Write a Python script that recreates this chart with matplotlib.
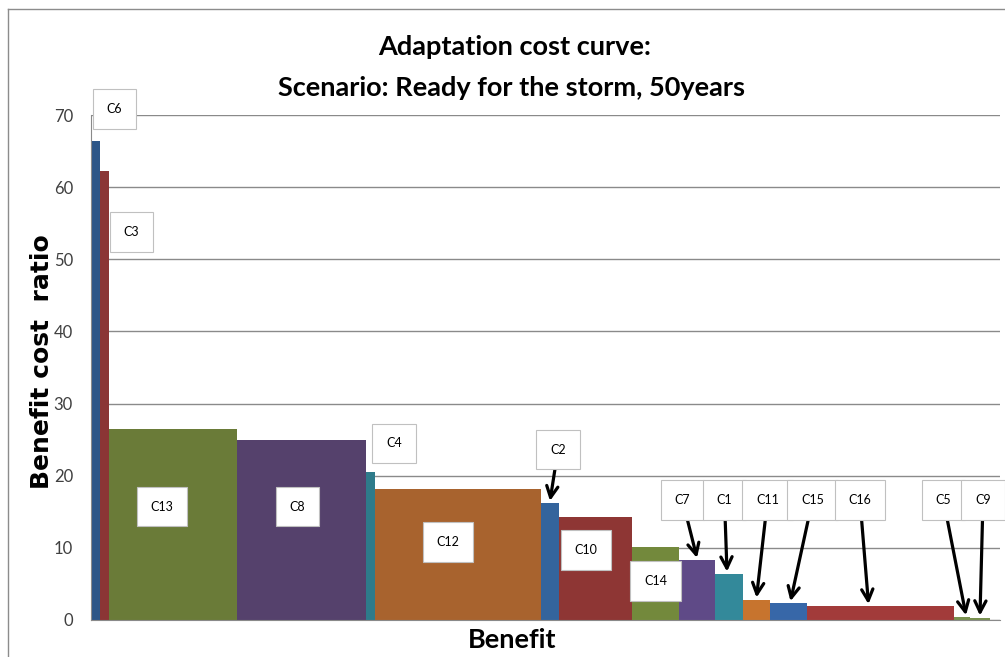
import numpy as np
import matplotlib
matplotlib.use("Agg")
import matplotlib.pyplot as plt
from matplotlib.lines import Line2D

# adaptation options, ordered by benefit cost ratio
names = ["C6", "C3", "C13", "C8", "C4", "C12", "C2", "C10", "C14",
         "C7", "C1", "C11", "C15", "C16", "C5", "C9"]
benefit = [9, 9, 128, 129, 9, 166, 18, 73, 47, 36, 28, 27, 37, 147, 16, 20]
bc_ratio = [66.4, 62.3, 26.5, 25.0, 20.5, 18.2, 16.2, 14.3, 10.1,
            8.3, 6.4, 2.8, 2.3, 1.9, 0.35, 0.3]
colors = ["#2D5687", "#8B3535", "#6A7B38", "#55416C", "#2E7B8A", "#A8632E",
          "#34649C", "#8E3634", "#73893C", "#5F4A87", "#33899A", "#C7742E",
          "#3767A8", "#A23B3A", "#7A9250", "#7A9250"]

# label box centres (benefit, ratio) and which ones get an arrow
label_pos = {
    "C6": (23.5, 70.8), "C3": (40.5, 53.8), "C13": (71, 15.7),
    "C8": (206.5, 15.7), "C4": (303, 24.5), "C12": (357, 10.8),
    "C2": (467, 23.6), "C10": (495, 9.7), "C14": (564.5, 5.4),
    "C7": (591.5, 16.6), "C1": (633.5, 16.6), "C11": (676.5, 16.6),
    "C15": (721.5, 16.6), "C16": (769, 16.6), "C5": (852.5, 16.6),
    "C9": (892, 16.6),
}
arrowed = ["C2", "C7", "C1", "C11", "C15", "C16", "C5", "C9"]
arrow_dx = {"C16": -12, "C5": 4, "C1": -2, "C15": 2}

W, H = 1005, 657
fig = plt.figure(figsize=(W / 100, H / 100), dpi=100)
ax = fig.add_axes([91 / W, (H - 620) / H, (1000 - 91) / W, (620 - 115) / H])

lefts = np.concatenate([[0], np.cumsum(benefit)[:-1]])
ax.bar(lefts, bc_ratio, width=benefit, align="edge", color=colors,
       linewidth=0, zorder=2)

ax.set_xlim(0, 1000 - 91)
ax.set_ylim(0, 70)
ax.set_yticks(range(0, 80, 10))
ax.set_xticks([])
ax.yaxis.grid(True, color="#8A8A8A", lw=1)
ax.set_axisbelow(True)
ax.tick_params(axis="y", length=0, pad=13, labelsize=12, labelcolor="#404040")
for lab in ax.get_yticklabels():
    lab.set_family("Lato")
for s in ["top", "right"]:
    ax.spines[s].set_visible(False)
for s in ["left", "bottom"]:
    ax.spines[s].set_color("#8A8A8A")

box = dict(boxstyle="square,pad=1.1", fc="white", ec="#C0C0C0", lw=0.8)
for i, n in enumerate(names):
    tx, ty = label_pos[n]
    if n in arrowed:
        cx = lefts[i] + benefit[i] / 2 + arrow_dx.get(n, 0)
        ax.annotate(n, xy=(cx, bc_ratio[i] + 0.3), xytext=(tx, ty),
                    ha="center", va="center", fontsize=9, family="Lato",
                    bbox=box, annotation_clip=False, zorder=5,
                    arrowprops=dict(arrowstyle="->,head_length=0.9,head_width=0.45",
                                    color="black", lw=2.3, shrinkA=0, shrinkB=0))
    else:
        ax.text(tx, ty, n, ha="center", va="center", fontsize=9, family="Lato",
                bbox=box, zorder=5, clip_on=False)

fig.text(515 / W, 1 - 47 / H, "Adaptation cost curve:", ha="center", va="center",
         fontsize=19.5, fontweight="bold", family="Lato")
fig.text(512 / W, 1 - 88 / H, "Scenario: Ready for the storm, 50years", ha="center",
         va="center", fontsize=19.5, fontweight="bold", family="Lato")
fig.text(512 / W, 1 - 640 / H, "Benefit", ha="center", va="center",
         fontsize=19.5, fontweight="bold", family="Lato")
fig.text(42 / W, 1 - 362 / H, "Benefit cost  ratio", ha="center", va="center",
         rotation=90, fontsize=18, fontweight="bold", family="DejaVu Sans")

# outer chart frame (top and left edges visible)
fig.add_artist(Line2D([8 / W, 8 / W], [0, 1 - 9 / H], color="#8C8C8C", lw=1))
fig.add_artist(Line2D([8 / W, 1], [1 - 9 / H, 1 - 9 / H], color="#8C8C8C", lw=1))

fig.savefig("out.png", dpi=100)
plt.close()
